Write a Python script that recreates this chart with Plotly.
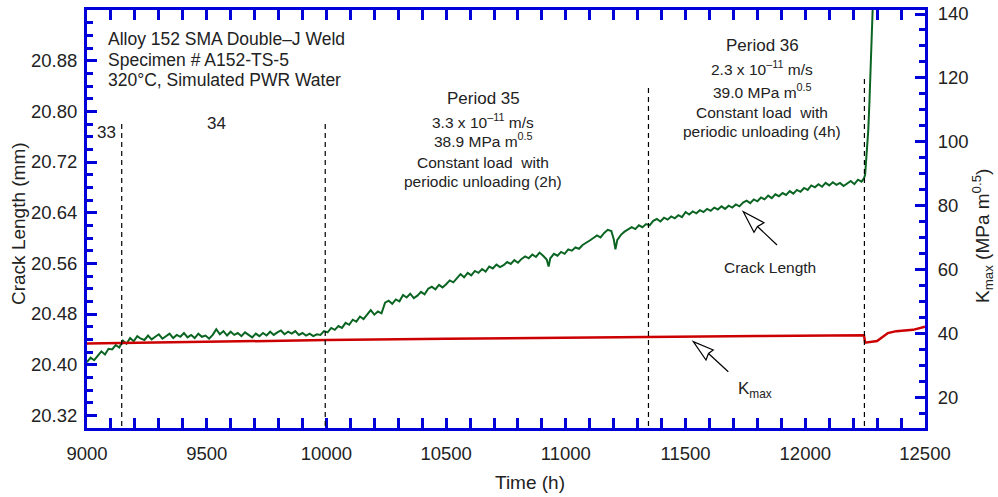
import plotly.graph_objects as go

# ---------------- data ----------------
crack_time = [
    9000, 9015, 9030, 9045, 9060, 9075, 9090, 9105, 9120, 9135,
    9150, 9165, 9180, 9195, 9210, 9225, 9240, 9255, 9270, 9285,
    9300, 9315, 9330, 9345, 9360, 9375, 9390, 9405, 9420, 9435,
    9450, 9465, 9480, 9495, 9510, 9525, 9540, 9555, 9570, 9585,
    9600, 9615, 9630, 9645, 9660, 9675, 9690, 9705, 9720, 9735,
    9750, 9765, 9780, 9795, 9810, 9825, 9840, 9855, 9870, 9885,
    9900, 9915, 9930, 9945, 9960, 9975, 9990, 10005, 10020, 10035,
    10050, 10065, 10080, 10095, 10110, 10125, 10140, 10155, 10170, 10185,
    10200, 10215, 10230, 10245, 10260, 10275, 10290, 10305, 10320, 10335,
    10350, 10365, 10380, 10395, 10410, 10425, 10440, 10455, 10470, 10485,
    10500, 10515, 10530, 10545, 10560, 10575, 10590, 10605, 10620, 10635,
    10650, 10665, 10680, 10695, 10710, 10725, 10740, 10755, 10770, 10785,
    10800, 10815, 10830, 10845, 10860, 10875, 10890, 10905, 10920, 10928, 10935,
    10950, 10965, 10980, 10995, 11010, 11025, 11040, 11055, 11070, 11085,
    11100, 11115, 11130, 11145, 11160, 11175, 11190, 11200, 11207, 11215, 11230,
    11245, 11260, 11275, 11290, 11305, 11320, 11335, 11350, 11365, 11380,
    11395, 11410, 11425, 11440, 11455, 11470, 11485, 11500, 11515, 11530,
    11545, 11560, 11575, 11590, 11605, 11620, 11635, 11650, 11665, 11680,
    11695, 11710, 11725, 11740, 11755, 11770, 11785, 11800, 11815, 11830,
    11845, 11860, 11875, 11890, 11905, 11920, 11935, 11950, 11965, 11980,
    11995, 12010, 12025, 12040, 12055, 12070, 12085, 12100, 12115, 12130,
    12145, 12160, 12175, 12190, 12205, 12220, 12235, 12245,
    12250, 12258, 12263, 12268, 12273, 12278, 12285,
]
crack_length = [
    20.404, 20.411, 20.407, 20.415, 20.421, 20.416, 20.425, 20.424, 20.431, 20.427,
    20.438, 20.433, 20.442, 20.437, 20.445, 20.441, 20.439, 20.446, 20.440, 20.444,
    20.448, 20.441, 20.445, 20.449, 20.442, 20.447, 20.444, 20.450, 20.443, 20.447,
    20.442, 20.449, 20.444, 20.446, 20.441, 20.447, 20.456, 20.448, 20.453, 20.446,
    20.452, 20.447, 20.450, 20.445, 20.451, 20.447, 20.443, 20.449, 20.445, 20.450,
    20.446, 20.452, 20.447, 20.451, 20.454, 20.448, 20.452, 20.449, 20.453, 20.447,
    20.450, 20.446, 20.449, 20.445, 20.448, 20.447, 20.453, 20.451, 20.458, 20.455,
    20.461, 20.458, 20.466, 20.463, 20.471, 20.468, 20.476, 20.472, 20.480, 20.486,
    20.479, 20.484, 20.481, 20.498, 20.501, 20.496, 20.503, 20.500, 20.510, 20.506,
    20.512, 20.505, 20.509, 20.515, 20.511, 20.520, 20.523, 20.519, 20.526, 20.522,
    20.527, 20.533, 20.530, 20.537, 20.543, 20.538, 20.545, 20.541, 20.548, 20.545,
    20.551, 20.547, 20.555, 20.552, 20.558, 20.554, 20.557, 20.562, 20.559, 20.565,
    20.561, 20.567, 20.571, 20.568, 20.574, 20.570, 20.577, 20.572, 20.566, 20.555, 20.568,
    20.575, 20.572, 20.578, 20.575, 20.582, 20.580, 20.585, 20.583, 20.589, 20.592,
    20.596, 20.600, 20.604, 20.601, 20.608, 20.613, 20.611, 20.598, 20.582, 20.597, 20.605,
    20.610, 20.613, 20.617, 20.614, 20.620, 20.617, 20.622, 20.620, 20.627, 20.630,
    20.626, 20.632, 20.629, 20.634, 20.631, 20.636, 20.633, 20.641, 20.637, 20.642,
    20.639, 20.644, 20.641, 20.646, 20.643, 20.648, 20.645, 20.650, 20.646, 20.651,
    20.648, 20.653, 20.650, 20.656, 20.659, 20.655, 20.661, 20.658, 20.664, 20.661,
    20.667, 20.663, 20.669, 20.666, 20.671, 20.668, 20.674, 20.670, 20.676, 20.673,
    20.679, 20.676, 20.683, 20.680, 20.685, 20.681, 20.687, 20.683, 20.688, 20.684,
    20.687, 20.682, 20.686, 20.690, 20.685, 20.692, 20.689, 20.694,
    20.700, 20.740, 20.770, 20.815, 20.870, 20.930, 21.000,
]

kmax_time = [9000, 9500, 10000, 10500, 11000, 11350, 11800, 12245, 12250, 12300, 12345, 12380, 12450, 12500]
kmax_value = [36.9, 37.5, 38.0, 38.4, 38.8, 39.0, 39.3, 39.5, 37.2, 37.7, 40.2, 40.8, 41.2, 42.2]

period_boundaries = [9145, 9995, 11345, 12247]

x_ticks = [9000, 9500, 10000, 10500, 11000, 11500, 12000, 12500]
x_tick_text = ["9000", "9500", "10000", "10500", "11000", "11500", "12000", "12500"]
y_ticks = [20.32, 20.40, 20.48, 20.56, 20.64, 20.72, 20.80, 20.88]
y2_ticks = [20, 40, 60, 80, 100, 120, 140]

# ---------------- styling ----------------
W, H = 998, 497
L_M, R_M, T_M, B_M = 87, 73, 10, 69
PW, PH = W - L_M - R_M, H - T_M - B_M
BLUE = "#0000d8"
GREEN = "#0b6522"
RED = "#cc0000"
TXT = "#222222"
FONT = "Liberation Sans, Arial, sans-serif"


def px(x):
    return (x - L_M) / PW


def py(y):
    return (H - B_M - y) / PH


fig = go.Figure()
fig.add_trace(go.Scatter(x=kmax_time, y=kmax_value, mode="lines", yaxis="y2",
                         line=dict(color=RED, width=2.5), showlegend=False))
fig.add_trace(go.Scatter(x=crack_time, y=crack_length, mode="lines",
                         line=dict(color=GREEN, width=2), showlegend=False))

axis_common = dict(showline=True, linecolor=BLUE, linewidth=3, ticks="inside",
                   tickcolor=BLUE, tickwidth=2.5, ticklen=10, showgrid=False,
                   zeroline=False, automargin=False,
                   tickfont=dict(family=FONT, size=18.5, color=TXT))

fig.update_layout(
    width=W, height=H,
    margin=dict(l=L_M, r=R_M, t=T_M, b=B_M),
    paper_bgcolor="white", plot_bgcolor="white",
    font=dict(family=FONT, color=TXT),
    xaxis=dict(range=[9000, 12500], tickvals=x_ticks, ticktext=x_tick_text,
               mirror="allticks", ticklabelstandoff=7,
               minor=dict(ticks="inside", dtick=100, tick0=9000, ticklen=6,
                          tickwidth=2.5, tickcolor=BLUE),
               **axis_common),
    yaxis=dict(range=[20.30, 20.96], tickvals=y_ticks, tickformat=".2f",
               ticklabelstandoff=3,
               minor=dict(ticks="inside", dtick=0.02, tick0=20.32, ticklen=6,
                          tickwidth=2.5, tickcolor=BLUE),
               **axis_common),
    yaxis2=dict(range=[10.5, 141.25], tickvals=y2_ticks, overlaying="y", side="right",
                ticklabelstandoff=6,
                minor=dict(ticks="inside", dtick=5, tick0=0, ticklen=6,
                           tickwidth=2.5, tickcolor=BLUE),
                **axis_common),
)

shapes = []
tops = [124, 123, 85, 77]
for t, top in zip(period_boundaries, tops):
    shapes.append(dict(type="line", xref="x", yref="paper", x0=t, x1=t, y0=0.005, y1=py(top),
                       line=dict(color="black", width=1.2, dash="5px,4px")))


def arrow_path(pts):
    return "M " + " L ".join(f"{px(a):.5f},{py(b):.5f}" for a, b in pts)


# hollow arrow heads + shafts (pixel positions in the reference)
for tip, b1, notch, b2, tail in [
    ((743.3, 211.7), (764, 222.7), (757.5, 226.5), (754, 232.3), (777, 245)),
    ((693.3, 341.7), (713.3, 350), (708.5, 353.5), (706, 360), (728.3, 371.7)),
]:
    shapes.append(dict(type="path", xref="paper", yref="paper",
                       path=arrow_path([b1, tip, b2, notch]) + " Z",
                       line=dict(color="black", width=1.2), fillcolor="white"))
    shapes.append(dict(type="line", xref="paper", yref="paper",
                       x0=px(notch[0]), y0=py(notch[1]), x1=px(tail[0]), y1=py(tail[1]),
                       line=dict(color="black", width=1.2)))
fig.update_layout(shapes=shapes)

ann = []


def text(x, y, s, size, xanchor="center", angle=0):
    ann.append(dict(x=px(x), y=py(y), xref="paper", yref="paper", text=s, showarrow=False,
                    xanchor=xanchor, yanchor="middle", textangle=angle,
                    font=dict(family=FONT, size=size, color=TXT)))


NB = "\u00a0"
text(106, 39, "Alloy 152 SMA Double–J Weld", 17.5, "left")
text(106, 60, "Specimen # A152-TS-5", 17.5, "left")
text(106, 80, "320°C, Simulated PWR Water", 17.5, "left")
text(106, 132, "33", 17)
text(216, 124, "34", 17)

text(483, 98, "Period 35", 17)
text(483, 121, "3.3 x 10<sup>–11</sup> m/s", 15.5)
text(483, 140, "38.9 MPa m<sup>0.5</sup>", 15.5)
text(483, 162, "Constant load" + NB + " with", 15.5)
text(483, 181, "periodic unloading (2h)", 15.5)

text(762, 45, "Period 36", 17)
text(762, 68, "2.3 x 10<sup>–11</sup> m/s", 15.5)
text(762, 91, "39.0 MPa m<sup>0.5</sup>", 15.5)
text(762, 112, "Constant load" + NB + " with", 15.5)
text(762, 131, "periodic unloading (4h)", 15.5)

text(770, 267, "Crack Length", 15.5)
text(755, 390, "K<sub>max</sub>", 17)

# axis titles
text(530, 482, "Time (h)", 19)
text(18, 224, "Crack Length (mm)", 19, angle=-90)
text(982, 236, "K<sub>max</sub> (MPa m<sup>0.5</sup>)", 19, angle=-90)

fig.update_layout(annotations=ann)
fig.write_html("out.html")
